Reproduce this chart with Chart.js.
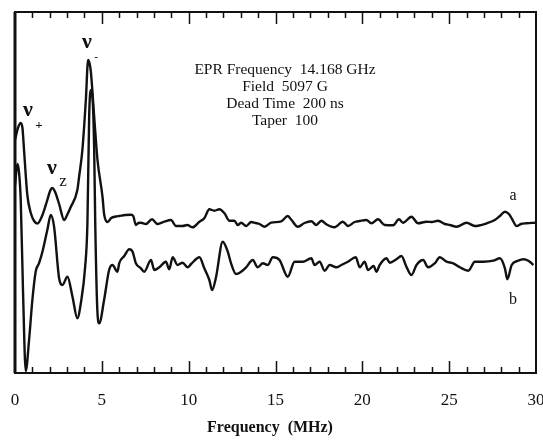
<!DOCTYPE html>
<html>
<head>
<meta charset="utf-8">
<script src="https://cdn.jsdelivr.net/npm/chart.js@4"></script>
<style>
  html, body { margin: 0; padding: 0; background: #fff; }
  #wrap { width: 543px; height: 442px; position: relative; }
</style>
</head>
<body>
<div id="wrap"><canvas id="eprChart"></canvas></div>
<script>
// Spectre a (haut) : fréquence (MHz) / amplitude (unités arbitraires)
const freqA = [0, 0.17, 0.33, 0.43, 0.52, 0.71, 0.91, 1.10, 1.29, 1.58, 1.86, 2.02, 2.15, 2.31, 2.54, 2.83, 3.00, 3.21, 3.59, 3.69,
  3.88, 4.08, 4.21, 4.30, 4.37, 4.56, 4.75, 5.04, 5.13, 5.33, 5.54, 5.81, 6.00, 6.35, 6.68, 6.81, 6.96, 7.10, 7.25, 7.54,
  7.89, 8.21, 8.60, 8.98, 9.27, 9.65, 9.92, 10.23, 10.62, 10.90, 11.19, 11.48, 11.77, 12.06, 12.35, 12.63, 12.83, 13.02, 13.31, 13.60,
  13.85, 14.08, 14.37, 14.75, 15.33, 15.71, 15.92, 16.29, 16.67, 17.06, 17.35, 17.64, 17.93, 18.40, 18.88, 19.17, 19.56, 19.85, 20.23, 20.52,
  20.90, 21.29, 21.77, 22.11, 22.34, 22.83, 23.21, 23.69, 24.00, 24.36, 24.75, 25.04, 25.43, 26.00, 26.48, 27.16, 27.63, 27.92, 28.21, 28.44,
  28.60, 28.89, 29.13, 29.46, 29.94];
const ampA = [233, 245, 250, 245, 223, 178, 160, 152, 149.5, 158, 173, 182, 185, 181, 169, 153, 158, 166, 183, 196,
  223, 273, 313, 309, 301, 256, 213, 176, 159, 151, 155, 156.5, 157, 158, 158.3, 157, 148, 150, 150.3, 149,
  153.7, 149, 151.3, 153, 147, 147, 148, 145.7, 151.3, 154.7, 163.7, 162.3, 163.7, 159.7, 152.3, 152.3, 148, 150.3, 147, 151,
  150, 149, 146.3, 150.3, 151.7, 157, 153, 146.3, 150, 151.7, 148, 152.3, 148.7, 145.7, 151.3, 147, 151, 152, 153, 149.7,
  153.7, 148, 147.7, 153.7, 150.3, 156.3, 149.7, 151.3, 151, 152.3, 149, 148, 146.3, 150.3, 147, 149.7, 153, 157, 161.3, 159,
  154.7, 147, 149, 149.7, 150.3];

// Spectre b (bas)
const freqB = [0, 0.14, 0.23, 0.33, 0.46, 0.62, 0.81, 1.00, 1.19, 1.38, 1.58, 1.86, 2.06, 2.25, 2.54, 2.73, 3.02, 3.31, 3.59, 3.79,
  4.04, 4.17, 4.27, 4.37, 4.46, 4.56, 4.62, 4.75, 4.85, 5.13, 5.42, 5.61, 5.90, 6.00, 6.29, 6.58, 6.77, 6.96, 7.25, 7.44,
  7.83, 8.02, 8.31, 8.69, 8.88, 9.08, 9.36, 9.65, 9.94, 10.14, 10.62, 10.90, 11.19, 11.35, 11.58, 11.96, 12.25, 12.44, 12.73, 13.02,
  13.31, 13.69, 13.98, 14.27, 14.56, 14.84, 15.23, 15.71, 16.10, 16.58, 17.06, 17.25, 17.54, 17.83, 18.12, 18.50, 18.79, 19.17, 19.62, 19.85,
  20.13, 20.33, 20.65, 20.81, 21.00, 21.39, 21.58, 21.96, 22.25, 22.54, 22.83, 23.12, 23.50, 23.79, 24.17, 24.46, 24.85, 25.23, 25.62, 26.10,
  26.48, 26.96, 27.54, 27.92, 28.21, 28.35, 28.60, 28.98, 29.27, 29.56, 29.85];
const ampB = [188, 209, 201, 173, 83, 2, 33, 73, 101.3, 109.7, 121.3, 143, 158, 146.3, 94.7, 88, 96.3, 76.3, 54.7, 69.7,
  106.3, 149.7, 256.3, 283, 276.3, 223, 150, 59.7, 49.7, 73, 103, 108, 101.3, 109.7, 117, 123.7, 121.3, 109.7, 104.7, 101.3,
  113, 103, 105.7, 111.3, 103.7, 115.7, 108, 110.3, 105.7, 109, 115.7, 104.7, 93, 83, 96.3, 131.3, 121.3, 109.7, 99, 101.3,
  105.7, 113, 105.7, 109.7, 108, 115.7, 113, 96.3, 111.3, 111.3, 114.7, 108, 111.3, 102.3, 108, 105.7, 108, 111.3, 115.7, 105.7,
  111.3, 103, 107, 101.3, 108, 114.7, 110.3, 113.7, 117, 106.3, 98, 108, 113, 105.7, 109.7, 115.7, 111.3, 109.7, 105.7, 102.3,
  111.3, 111.3, 112.3, 114.7, 104.7, 93.7, 108, 112.3, 113.7, 112.3, 108];

const xTicks = [0, 5, 10, 15, 20, 25, 30];
const infoLines = ['EPR Frequency  14.168 GHz', 'Field  5097 G', 'Dead Time  200 ns', 'Taper  100'];

const SERIF = '"Liberation Serif", "Times New Roman", serif';

function toPoints(xs, ys) { return xs.map((x, i) => ({ x, y: ys[i] })); }

// Cadre, graduations intérieures et textes
const decorPlugin = {
  id: 'decor',
  afterDraw(chart) {
    const ctx = chart.ctx;
    const area = chart.chartArea;
    const xs = chart.scales.x;
    ctx.save();
    ctx.strokeStyle = '#111';
    ctx.lineWidth = 2;
    ctx.strokeRect(area.left, area.top, area.right - area.left, area.bottom - area.top);
    ctx.lineWidth = 3;
    ctx.beginPath();
    ctx.moveTo(area.left, area.top); ctx.lineTo(area.left, area.bottom);
    ctx.stroke();
    ctx.lineWidth = 1.5;
    for (let v = 1; v < 30; v++) {
      const px = Math.round(xs.getPixelForValue(v)) + 0.5;
      const len = v % 5 === 0 ? 12 : 6;
      ctx.beginPath();
      ctx.moveTo(px, area.bottom); ctx.lineTo(px, area.bottom - len);
      ctx.moveTo(px, area.top); ctx.lineTo(px, area.top + len);
      ctx.stroke();
    }

    ctx.fillStyle = '#111';
    ctx.textAlign = 'center';
    ctx.textBaseline = 'middle';
    ctx.font = '15.5px ' + SERIF;
    infoLines.forEach((t, i) => ctx.fillText(t, 285, 70 + i * 17));

    ctx.font = '16px ' + SERIF;
    ctx.fillText('a', 513, 196);
    ctx.fillText('b', 513, 300);

    // étiquettes ν
    ctx.font = 'bold 22px ' + SERIF;
    ctx.fillText('ν', 28, 110);
    ctx.fillText('ν', 52, 168);
    ctx.fillText('ν', 87, 42);
    ctx.font = 'bold 13px ' + SERIF;
    ctx.fillText('+', 39, 126);
    ctx.font = '17px ' + SERIF;
    ctx.fillText('z', 63, 182);
    ctx.font = 'bold 11px ' + SERIF;
    ctx.fillText('-', 96, 57);

    ctx.font = 'bold 16px ' + SERIF;
    ctx.fillText('Frequency  (MHz)', 270, 428);
    ctx.restore();
  }
};

new Chart(document.getElementById('eprChart').getContext('2d'), {
  type: 'line',
  data: {
    datasets: [
      { label: 'a', data: toPoints(freqA, ampA) },
      { label: 'b', data: toPoints(freqB, ampB) }
    ].map(d => Object.assign(d, {
      borderColor: '#111',
      borderWidth: 2.4,
      pointRadius: 0,
      fill: false,
      cubicInterpolationMode: 'monotone',
      clip: 4
    }))
  },
  options: {
    responsive: true,
    maintainAspectRatio: false,
    animation: false,
    layout: { padding: { left: 15, right: 7, top: 12, bottom: 0 } },
    scales: {
      x: {
        type: 'linear',
        min: 0,
        max: 30,
        afterFit: (scale) => {
          scale.height = 69;
          scale.paddingLeft = 0;
          scale.paddingRight = 0;
        },
        afterBuildTicks: (scale) => { scale.ticks = xTicks.map(v => ({ value: v })); },
        grid: { display: false, drawTicks: false },
        border: { display: false },
        ticks: { color: '#111', font: { family: SERIF, size: 17 }, padding: 17, maxRotation: 0 }
      },
      y: { display: false, min: 0, max: 361 }
    },
    plugins: { legend: { display: false }, tooltip: { enabled: false } }
  },
  plugins: [decorPlugin]
});
</script>
</body>
</html>
